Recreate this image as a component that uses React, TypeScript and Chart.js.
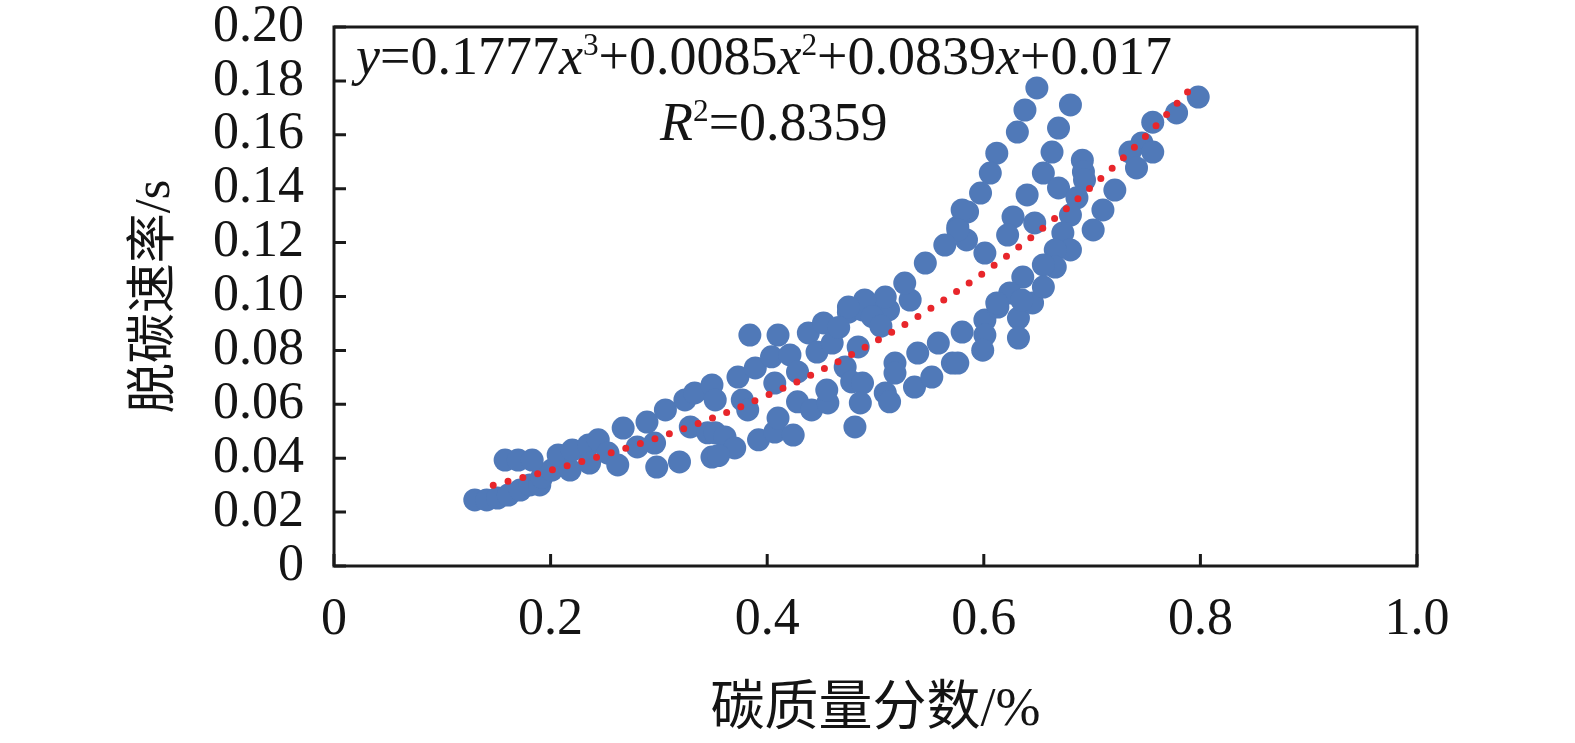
import React, { useEffect, useRef } from 'react';
import { Chart, registerables } from 'chart.js';

Chart.register(...registerables);

// carbon mass fraction (%) of each measured point
const carbonX = [
  0.130, 0.141, 0.151, 0.161, 0.172, 0.181, 0.190, 0.192, 0.201, 0.158,
  0.170, 0.183, 0.207, 0.218, 0.220, 0.235, 0.236, 0.244, 0.253, 0.262,
  0.267, 0.280, 0.289, 0.296, 0.298, 0.306, 0.319, 0.324, 0.329, 0.333,
  0.345, 0.349, 0.349, 0.384, 0.410, 0.438, 0.452, 0.475, 0.488, 0.502,
  0.512, 0.532, 0.580, 0.373, 0.389, 0.404, 0.421, 0.407, 0.428, 0.446,
  0.460, 0.484, 0.472, 0.352, 0.377, 0.382, 0.352, 0.361, 0.370, 0.355,
  0.392, 0.407, 0.424, 0.410, 0.428, 0.441, 0.456, 0.455, 0.478, 0.488,
  0.486, 0.481, 0.509, 0.513, 0.518, 0.518, 0.536, 0.539, 0.552, 0.558,
  0.571, 0.601, 0.601, 0.599, 0.576, 0.613, 0.632, 0.632, 0.645, 0.649,
  0.638, 0.631, 0.612, 0.606, 0.597, 0.585, 0.576, 0.584, 0.601, 0.680,
  0.669, 0.663, 0.655, 0.669, 0.691, 0.692, 0.693, 0.686, 0.680, 0.673,
  0.680, 0.666, 0.666, 0.655, 0.636, 0.655, 0.624, 0.635, 0.612, 0.640,
  0.627, 0.647, 0.622, 0.798, 0.778, 0.756, 0.746, 0.735, 0.756, 0.741,
  0.721, 0.710, 0.701, 0.580, 0.576, 0.564, 0.546, 0.527, 0.509, 0.490,
  0.475, 0.497, 0.505, 0.466
];

// decarburization rate (/s) of each measured point
const rateY = [
  0.0245, 0.0245, 0.0252, 0.0263, 0.0282, 0.0301, 0.0301, 0.0330, 0.0356, 0.0393,
  0.0393, 0.0393, 0.0412, 0.0356, 0.0430, 0.0449, 0.0382, 0.0468, 0.0419, 0.0375,
  0.0512, 0.0442, 0.0534, 0.0456, 0.0367, 0.0579, 0.0386, 0.0616, 0.0516, 0.0642,
  0.0494, 0.0672, 0.0404, 0.0857, 0.0857, 0.0865, 0.0902, 0.0942, 0.0950, 0.0950,
  0.0950, 0.0987, 0.0868, 0.0701, 0.0735, 0.0776, 0.0783, 0.0679, 0.0720, 0.0794,
  0.0827, 0.0813, 0.0738, 0.0616, 0.0616, 0.0579, 0.0494, 0.0479, 0.0438, 0.0410,
  0.0468, 0.0497, 0.0486, 0.0549, 0.0609, 0.0579, 0.0605, 0.0653, 0.0683, 0.0679,
  0.0605, 0.0516, 0.0642, 0.0609, 0.0753, 0.0716, 0.0664, 0.0790, 0.0701, 0.0827,
  0.0753, 0.0913, 0.0857, 0.0801, 0.0753, 0.0961, 0.0920, 0.0846, 0.0976, 0.1774,
  0.1692, 0.1610, 0.1532, 0.1458, 0.1384, 0.1314, 0.1258, 0.1210, 0.1161, 0.1711,
  0.1625, 0.1536, 0.1458, 0.1403, 0.1506, 0.1462, 0.1432, 0.1366, 0.1302, 0.1236,
  0.1173, 0.1173, 0.1109, 0.1117, 0.1072, 0.1035, 0.1013, 0.0987, 0.0976, 0.1377,
  0.1295, 0.1273, 0.1228, 0.1740, 0.1681, 0.1647, 0.1570, 0.1536, 0.1536, 0.1477,
  0.1395, 0.1321, 0.1247, 0.1321, 0.1247, 0.1191, 0.1124, 0.1050, 0.0998, 0.0987,
  0.0961, 0.0925, 0.0890, 0.0885
];

// polynomial trend line
const fitX = [0.147, 0.20, 0.25, 0.30, 0.35, 0.40, 0.45, 0.50, 0.55, 0.60, 0.65, 0.70, 0.75, 0.797];
const fitY = [0.0300, 0.0355, 0.0413, 0.0477, 0.0550, 0.0633, 0.0727, 0.0833, 0.0953, 0.1088, 0.1239, 0.1409, 0.1597, 0.1797];

const xTickLabels = ['0', '0.2', '0.4', '0.6', '0.8', '1.0'];
const yTickLabels = ['0', '0.02', '0.04', '0.06', '0.08', '0.10', '0.12', '0.14', '0.16', '0.18', '0.20'];

const xTitle = '碳质量分数/%';
const yTitle = '脱碳速率/s';

type Seg = { t: string; it?: boolean; sup?: boolean };
const eqLine1: Seg[] = [
  { t: 'y', it: true }, { t: '=0.1777' }, { t: 'x', it: true }, { t: '3', sup: true },
  { t: '+0.0085' }, { t: 'x', it: true }, { t: '2', sup: true },
  { t: '+0.0839' }, { t: 'x', it: true }, { t: '+0.017' },
];
const eqLine2: Seg[] = [{ t: 'R', it: true }, { t: '2', sup: true }, { t: '=0.8359' }];

const SERIF = "'Liberation Serif', 'Times New Roman', serif";
const FONT = "'Liberation Serif', 'Noto Sans CJK SC', serif";
const TEXT = '#141414';

function drawSegs(ctx: CanvasRenderingContext2D, segs: Seg[], x: number, y: number, size: number) {
  let cx = x;
  for (const s of segs) {
    const fs = s.sup ? size * 0.58 : size;
    ctx.font = `${s.it ? 'italic ' : ''}${fs}px ${SERIF}`;
    const yy = s.sup ? y - size * 0.36 : y;
    ctx.fillText(s.t, cx, yy);
    cx += ctx.measureText(s.t).width;
  }
}

const framePlugin = {
  id: 'frameAndText',
  afterDraw(chart: any) {
    const { ctx, chartArea } = chart;
    const { left, right, top, bottom } = chartArea;
    const xs = chart.scales.x;
    const ys = chart.scales.y;
    ctx.save();
    ctx.strokeStyle = '#1a1a1a';
    ctx.lineWidth = 3;
    ctx.strokeRect(left, top, right - left, bottom - top);
    const tl = 12;
    ctx.beginPath();
    xs.ticks.forEach((t: any) => {
      const px = xs.getPixelForValue(t.value);
      ctx.moveTo(px, bottom);
      ctx.lineTo(px, bottom - tl);
    });
    ys.ticks.forEach((t: any) => {
      const py = ys.getPixelForValue(t.value);
      ctx.moveTo(left, py);
      ctx.lineTo(left + tl, py);
    });
    ctx.stroke();
    ctx.fillStyle = TEXT;
    ctx.textBaseline = 'alphabetic';
    ctx.textAlign = 'left';
    drawSegs(ctx, eqLine1, left + 22, top + 47, 54);
    drawSegs(ctx, eqLine2, left + 326, top + 113, 54);
    ctx.restore();
  },
};

export default function App() {
  const ref = useRef<HTMLCanvasElement | null>(null);
  useEffect(() => {
    if (!ref.current) return;
    const chart = new Chart(ref.current, {
      type: 'scatter',
      data: {
        datasets: [
          {
            type: 'line',
            data: fitX.map((x, i) => ({ x, y: fitY[i] })),
            borderColor: '#e8262b',
            borderWidth: 7,
            borderDash: [0, 15.3],
            borderCapStyle: 'round',
            pointRadius: 0,
            fill: false,
            cubicInterpolationMode: 'monotone',
            order: 0,
          } as any,
          {
            data: carbonX.map((x, i) => ({ x, y: rateY[i] })),
            backgroundColor: '#5079b8',
            borderWidth: 0,
            pointRadius: 11.5,
            order: 1,
          },
        ],
      },
      options: {
        animation: false,
        responsive: true,
        maintainAspectRatio: false,
        layout: { padding: { left: 0, top: 27, right: 158, bottom: 0 } },
        plugins: { legend: { display: false }, tooltip: { enabled: false } },
        scales: {
          x: {
            type: 'linear',
            min: 0,
            max: 1,
            grid: { display: false },
            border: { display: false },
            ticks: {
              stepSize: 0.2,
              autoSkip: false,
              maxRotation: 0,
              padding: 15,
              color: TEXT,
              font: { family: SERIF, size: 52 },
              callback: (_v: any, i: number) => xTickLabels[i],
            },
            title: {
              display: true,
              text: xTitle,
              color: TEXT,
              font: { family: FONT, size: 54 },
              padding: { top: 0, bottom: 0 },
            },
            afterFit: (s: any) => { s.height = 177; },
          },
          y: {
            type: 'linear',
            min: 0,
            max: 0.2,
            grid: { display: false },
            border: { display: false },
            ticks: {
              stepSize: 0.02,
              autoSkip: false,
              padding: 22,
              color: TEXT,
              font: { family: SERIF, size: 52, lineHeight: 0.1 },
              callback: (_v: any, i: number) => yTickLabels[i],
            },
            title: {
              display: true,
              text: yTitle,
              color: TEXT,
              font: { family: FONT, size: 50 },
              padding: { top: 126, bottom: 0 },
            },
            afterFit: (s: any) => { s.width = 334; },
          },
        },
      },
      plugins: [framePlugin],
    });
    return () => chart.destroy();
  }, []);
  return (
    <div style={{ position: 'absolute', left: 0, top: 0, width: 1575, height: 743, background: '#fff' }}>
      <canvas ref={ref} />
    </div>
  );
}
